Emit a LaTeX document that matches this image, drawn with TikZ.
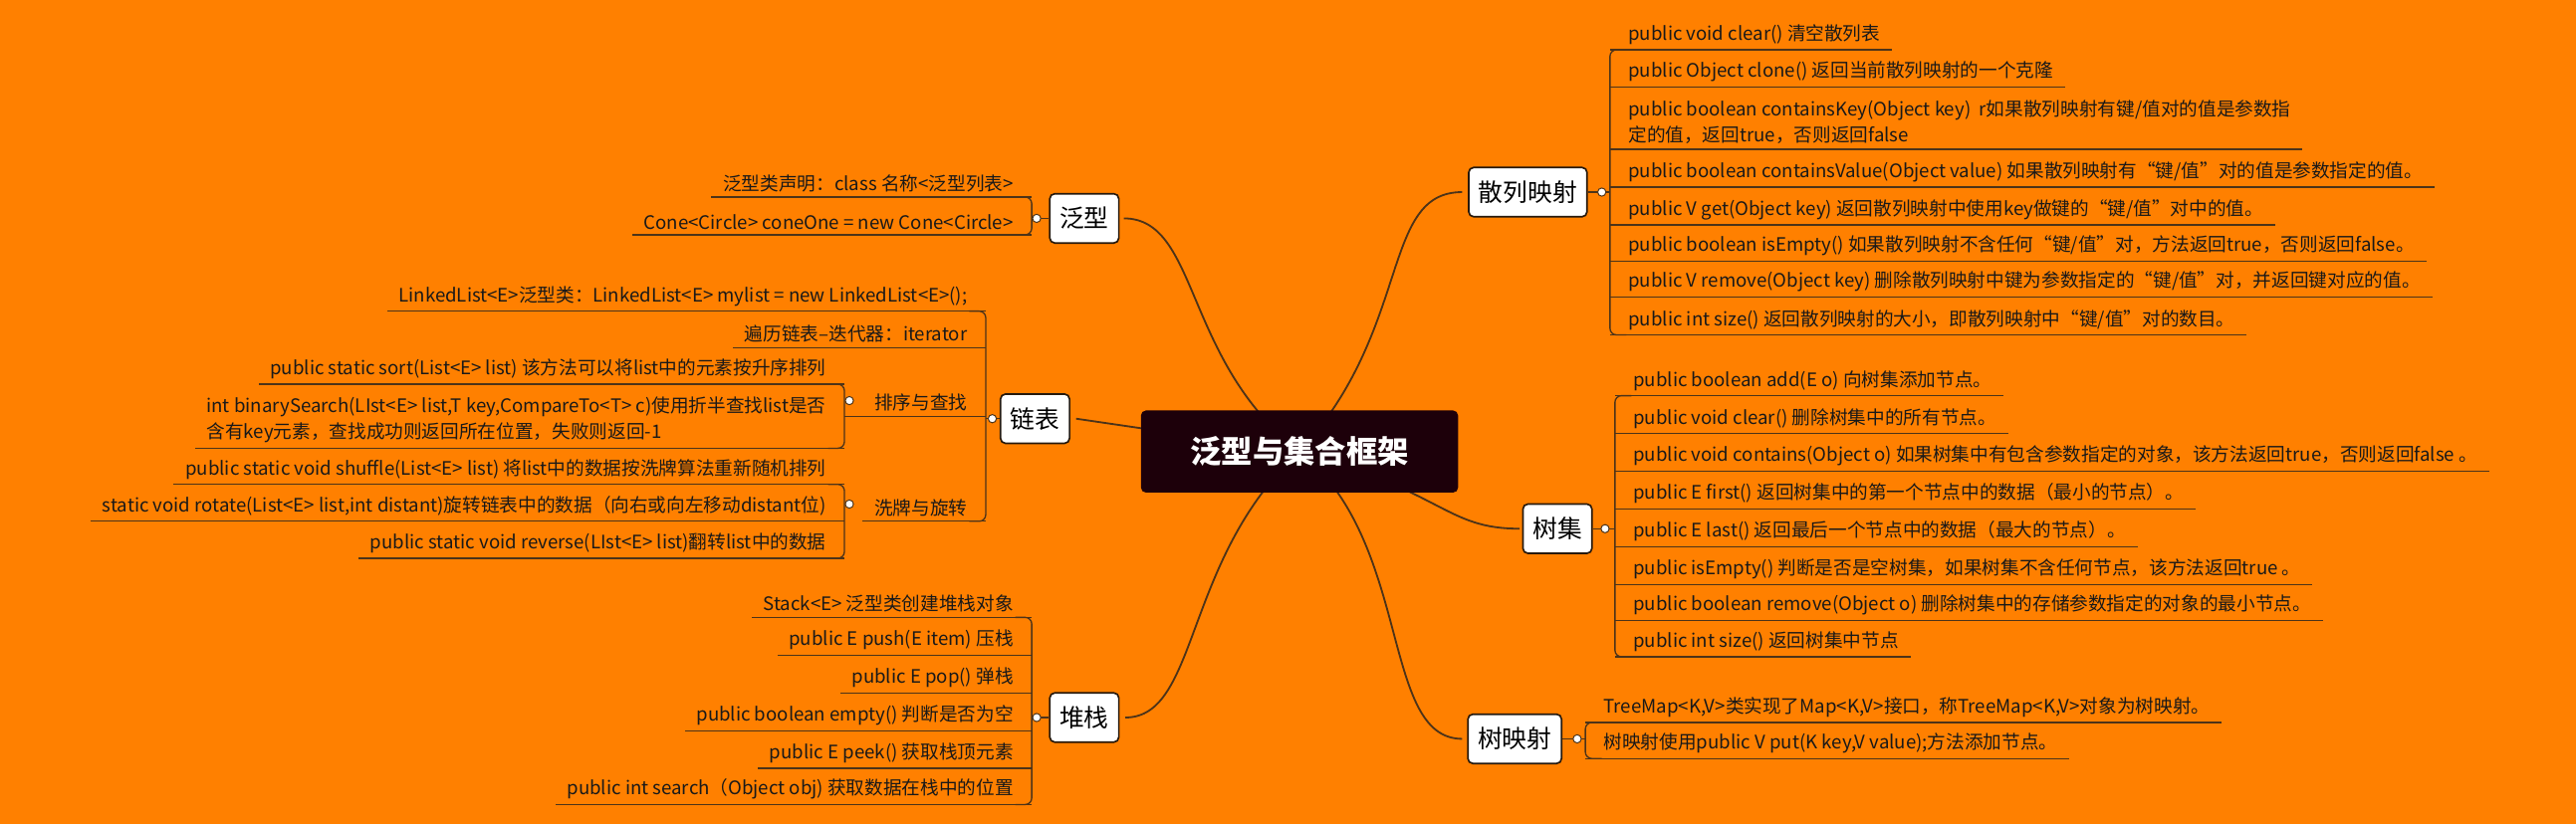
\documentclass[tikz,border=0pt]{standalone}
\usepackage{fontspec}
\setmainfont{Noto Sans CJK SC}
\begin{document}
\begin{tikzpicture}[x=1pt,y=-1pt,
  txt/.style={font=\fontsize{11.3}{16}\selectfont,inner xsep=0pt,inner ysep=3pt,align=left,text=black!90},
  ln/.style={draw=brown!40!black,line width=0.8pt},
  topic/.style={draw=black!80!brown,fill=white,rounded corners=3pt,line width=1pt,font=\fontsize{15}{18}\selectfont,minimum height=30pt,inner xsep=6pt},
  dot/.style={circle,draw=brown!40!black,fill=white,inner sep=0pt,minimum size=5pt,line width=0.6pt}]
\newcommand{\itemR}[4]{\node[txt,anchor=south west] (#1) at (#2+11,#3) {#4};
  \draw[ln] (#2,#3) -- ([xshift=7pt]#1.south east);}
\newcommand{\itemL}[4]{\node[txt,anchor=south east] (#1) at (#2-11,#3) {#4};
  \draw[ln] (#2,#3) -- ([xshift=-7pt]#1.south west);}
\fill[orange!95!red!100] (0,0) rectangle (1568,502);
\fill[orange] (0,0) rectangle (1568,502);
\useasboundingbox (0,0) rectangle (1568,502);
% center
\coordinate (c) at (791,275);
\draw[ln,line width=1.1pt] (c) .. controls (860,200) and (840,117) .. (890,117);
\draw[ln,line width=1.1pt] (c) .. controls (880,300) and (880,322) .. (925,322);
\draw[ln,line width=1.1pt] (c) .. controls (860,330) and (840,450) .. (890,450);
\draw[ln,line width=1.1pt] (c) .. controls (720,220) and (730,133) .. (684,133);
\draw[ln,line width=1.1pt] (c) -- (655,255);
\draw[ln,line width=1.1pt] (c) .. controls (720,340) and (730,437) .. (685,437);
\node[fill=black!60!purple!60!black,fill=black!85!purple,text=white,rounded corners=3pt,minimum width=193pt,minimum height=50pt,font=\fontsize{19}{22}\selectfont\bfseries] (center) at (c) {泛型与集合框架};
% 散列映射
\node[topic] (hash) at (930,117) {散列映射};
\itemR{h1}{980}{30.3}{public void clear() 清空散列表}
\itemR{h2}{980}{53}{public Object clone() 返回当前散列映射的一个克隆}
\itemR{h3}{980}{91}{public boolean containsKey(Object key)\ \ r如果散列映射有键/值对的值是参数指\\定的值，返回true，否则返回false}
\itemR{h4}{980}{114}{public boolean containsValue(Object value) 如果散列映射有“键/值”对的值是参数指定的值。}
\itemR{h5}{980}{137}{public V get(Object key) 返回散列映射中使用key做键的“键/值”对中的值。}
\itemR{h6}{980}{159}{public boolean isEmpty() 如果散列映射不含任何“键/值”对，方法返回true，否则返回false。}
\itemR{h7}{980}{181}{public V remove(Object key) 删除散列映射中键为参数指定的“键/值”对，并返回键对应的值。}
\itemR{h8}{980}{204}{public int size() 返回散列映射的大小，即散列映射中“键/值”对的数目。}
\draw[ln,rounded corners=4pt] (990,30.3) -- (980,30.3) -- (980,204) -- (990,204);
\draw[ln] (hash.east) -- (980,117);
\node[dot] at (975,117) {};
% 树集
\node[topic] (tset) at (948,322) {树集};
\itemR{s1}{983}{241}{public boolean add(E o) 向树集添加节点。}
\itemR{s2}{983}{264}{public void clear() 删除树集中的所有节点。}
\itemR{s3}{983}{287}{public void contains(Object o) 如果树集中有包含参数指定的对象，该方法返回true，否则返回false 。}
\itemR{s4}{983}{310}{public E first() 返回树集中的第一个节点中的数据（最小的节点）。}
\itemR{s5}{983}{333}{public E last() 返回最后一个节点中的数据（最大的节点）。}
\itemR{s6}{983}{356}{public isEmpty() 判断是否是空树集，如果树集不含任何节点，该方法返回true 。}
\itemR{s7}{983}{378}{public boolean remove(Object o) 删除树集中的存储参数指定的对象的最小节点。}
\itemR{s8}{983}{400}{public int size() 返回树集中节点}
\draw[ln,rounded corners=4pt] (993,241) -- (983,241) -- (983,400) -- (993,400);
\draw[ln] (tset.east) -- (983,322);
\node[dot] at (977,322) {};
% 树映射
\node[topic] (tmap) at (922,450) {树映射};
\itemR{m1}{965}{440}{TreeMap<K,V>类实现了Map<K,V>接口，称TreeMap<K,V>对象为树映射。}
\itemR{m2}{965}{462}{树映射使用public V put(K key,V value);方法添加节点。}
\draw[ln,rounded corners=4pt] (975,440) -- (965,440) -- (965,462) -- (975,462);
\draw[ln] (tmap.east) -- (965,450);
\node[dot] at (960,450) {};
% 泛型
\node[topic] (gen) at (660,133) {泛型};
\itemL{g1}{628}{120}{泛型类声明：class 名称<泛型列表>}
\itemL{g2}{628}{143}{Cone<Circle> coneOne = new Cone<Circle>}
\draw[ln,rounded corners=4pt] (618,120) -- (628,120) -- (628,143) -- (618,143);
\draw[ln] (gen.west) -- (628,133);
\node[dot] at (631,133) {};
% 链表
\node[topic] (list) at (630,255) {链表};
\itemL{l1}{600}{189.5}{LinkedList<E>泛型类：LinkedList<E> mylist = new LinkedList<E>();}
\itemL{l2}{600}{211.7}{遍历链表--迭代器：iterator}
\itemL{l3}{600}{253.5}{排序与查找}
\itemL{l4}{600}{317.5}{洗牌与旋转}
\draw[ln,rounded corners=4pt] (590,189.5) -- (600,189.5) -- (600,317.5) -- (590,317.5);
\draw[ln] (list.west) -- (600,255);
\node[dot] at (604,255) {};
\itemL{l31}{514}{234}{public static sort(List<E> list) 该方法可以将list中的元素按升序排列}
\itemL{l32}{514}{273}{int binarySearch(LIst<E> list,T key,CompareTo<T> c)使用折半查找list是否\\含有key元素，查找成功则返回所在位置，失败则返回-1}
\draw[ln,rounded corners=4pt] (504,234) -- (514,234) -- (514,273) -- (504,273);
\draw[ln] (514,253.5) -- (600,253.5);
\node[dot] at (517,244) {};
\itemL{l41}{514}{295}{public static void shuffle(List<E> list) 将list中的数据按洗牌算法重新随机排列}
\itemL{l42}{514}{317.5}{static void rotate(List<E> list,int distant)旋转链表中的数据（向右或向左移动distant位)}
\itemL{l43}{514}{340}{public static void reverse(LIst<E> list)翻转list中的数据}
\draw[ln,rounded corners=4pt] (504,295) -- (514,295) -- (514,340) -- (504,340);
\node[dot] at (517,307) {};
% 堆栈
\node[topic] (stack) at (660,437) {堆栈};
\itemL{k1}{628}{376}{Stack<E> 泛型类创建堆栈对象}
\itemL{k2}{628}{399}{public E push(E item) 压栈}
\itemL{k3}{628}{422}{public E pop() 弹栈}
\itemL{k4}{628}{445}{public boolean empty() 判断是否为空}
\itemL{k5}{628}{468}{public E peek() 获取栈顶元素}
\itemL{k6}{628}{490}{public int search（Object obj) 获取数据在栈中的位置}
\draw[ln,rounded corners=4pt] (618,376) -- (628,376) -- (628,490) -- (618,490);
\draw[ln] (stack.west) -- (628,437);
\node[dot] at (631,437) {};
\end{tikzpicture}
\end{document}
